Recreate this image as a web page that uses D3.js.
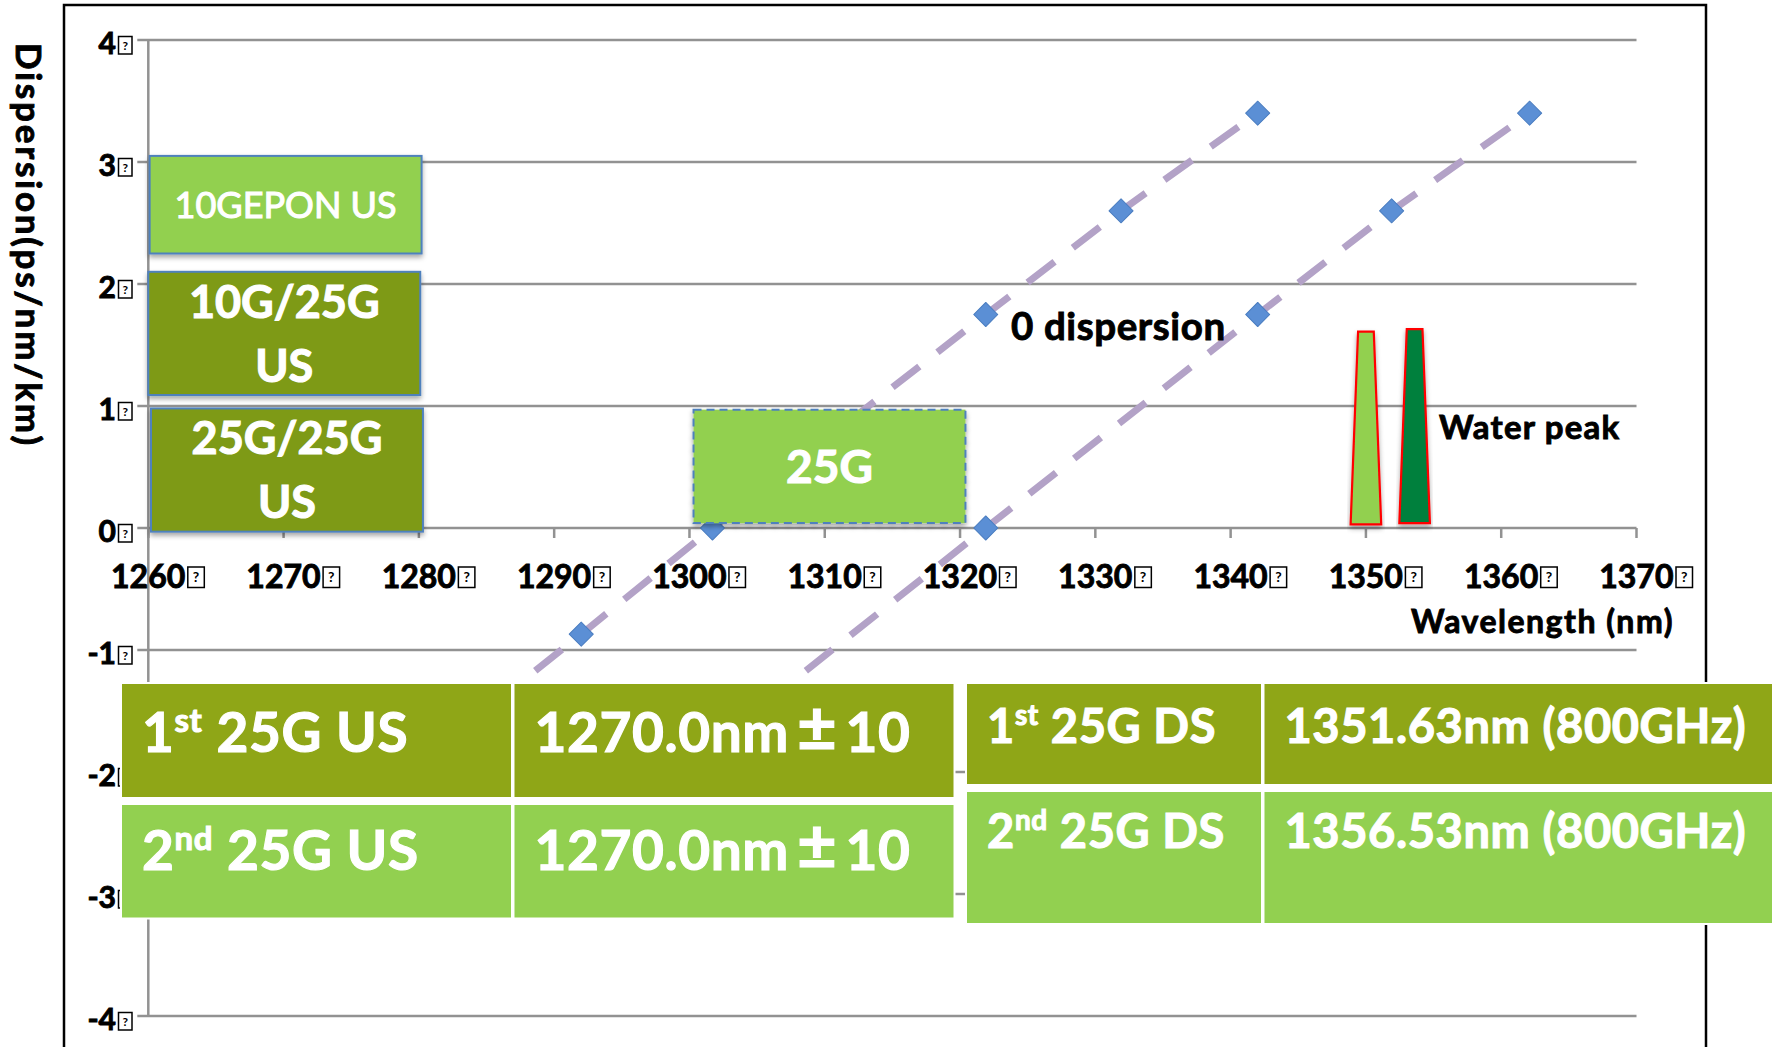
<!DOCTYPE html>
<html>
<head>
<meta charset="utf-8">
<script src="https://cdn.jsdelivr.net/npm/d3@7"></script>
<style>
  html, body { margin: 0; padding: 0; background: #fff; }
  svg { display: block; }
  text { font-family: Lato, "Open Sans", "DejaVu Sans", sans-serif; }
  .heavy-k { stroke: #000; stroke-width: 0.9px; }
  .heavy-w { stroke: #fff; stroke-width: 1.1px; }
</style>
</head>
<body>
<svg id="chart" width="1775" height="1047"></svg>
<script>
// ---- axis ticks ----
const xTicks = [1260, 1270, 1280, 1290, 1300, 1310, 1320, 1330, 1340, 1350, 1360, 1370];
const yTicks = [-4, -3, -2, -1, 0, 1, 2, 3, 4];

// ---- chromatic dispersion of two fibres (ps/nm/km vs nm) ----
const fibreAWavelength = [1282, 1292, 1301.7, 1321.9, 1331.9, 1342];
const fibreADispersion = [-1.75, -0.87, 0, 1.75, 2.6, 3.4];
const fibreBWavelength = [1302, 1321.9, 1342, 1351.9, 1362.1];
const fibreBDispersion = [-1.75, 0, 1.75, 2.6, 3.4];

// ---- wavelength bands (nm) and the dispersion range they span ----
const bandNames  = [["10GEPON US"], ["10G/25G", "US"], ["25G/25G", "US"], ["25G"]];
const bandStart  = [1260.1, 1260.0, 1260.2, 1300.3];
const bandEnd    = [1280.2, 1280.1, 1280.3, 1320.4];
const bandTop    = [3.05, 2.10, 0.98, 0.97];
const bandBottom = [2.25, 1.09, -0.03, 0.04];

// ---- water-peak markers ----
const peakWavelength = [1350.0, 1353.6];
const peakHeight     = [1.61, 1.63];
const peakBase       = [0.03, 0.04];

// ---- channel plan tables ----
const usOrdinal = ["1", "2"];
const usSuffix  = ["st", "nd"];
const usName    = ["25G US", "25G US"];
const usWave    = [["1270.0nm", "\u00B1", "10"], ["1270.0nm", "\u00B1", "10"]];
const dsOrdinal = ["1", "2"];
const dsSuffix  = ["st", "nd"];
const dsName    = ["25G DS", "25G DS"];
const dsWave    = [["1351.63nm (800GHz)"], ["1356.53nm (800GHz)"]];

const LIGHT = "#92D050", OLIVE = "#7E9A17", ROW_OLIVE = "#8FA617", BLUE = "#4F81BD";
const GRID = "#929292";

const svg = d3.select("#chart");
const x = d3.scaleLinear().domain([1260, 1370]).range([148.3, 1636.5]);
const y = d3.scaleLinear().domain([-4, 4]).range([1016, 40]);

const defs = svg.append("defs");
const sh = defs.append("filter").attr("id", "shadow")
  .attr("x", "-10%").attr("y", "-10%").attr("width", "120%").attr("height", "130%");
sh.append("feDropShadow").attr("dx", 0).attr("dy", 3).attr("stdDeviation", 2.5)
  .attr("flood-color", "#000").attr("flood-opacity", 0.35);

svg.append("rect").attr("width", 1775).attr("height", 1047).attr("fill", "#fff");

// chart frame
svg.append("rect").attr("x", 64).attr("y", 5).attr("width", 1642).attr("height", 1100)
  .attr("fill", "none").attr("stroke", "#000").attr("stroke-width", 2.5);

// horizontal gridlines (extend left as tick stubs)
svg.append("g").selectAll("line").data(yTicks).join("line")
  .attr("x1", x(1260) - 11).attr("x2", x(1370))
  .attr("y1", d => y(d)).attr("y2", d => y(d))
  .attr("stroke", GRID).attr("stroke-width", 2.5);

// vertical axis
svg.append("line").attr("x1", x(1260)).attr("x2", x(1260))
  .attr("y1", y(4)).attr("y2", y(-4)).attr("stroke", GRID).attr("stroke-width", 2.5);

// x ticks hanging below the zero line
svg.append("g").selectAll("line").data(xTicks).join("line")
  .attr("x1", d => x(d)).attr("x2", d => x(d))
  .attr("y1", y(0)).attr("y2", y(0) + 10)
  .attr("stroke", GRID).attr("stroke-width", 2.5);

// tick labels, each followed by a boxed "?" glyph
function glyphBox(g, bx, baseline, w, h, fs) {
  g.append("rect").attr("x", bx).attr("y", baseline - h).attr("width", w).attr("height", h)
    .attr("fill", "#fff").attr("stroke", "#000").attr("stroke-width", 1.5);
  g.append("text").attr("x", bx + w / 2).attr("y", baseline - h / 2 + fs * 0.36)
    .attr("text-anchor", "middle").attr("font-size", fs).attr("font-weight", 700)
    .attr("fill", "#000").text("?");
}

const xl = svg.append("g");
xTicks.forEach(t => {
  const g = xl.append("g");
  g.append("text").attr("class", "heavy-k").attr("x", x(t) + 37).attr("y", 588)
    .attr("text-anchor", "end").attr("font-size", 32).attr("font-weight", 700)
    .attr("fill", "#000").text(t);
  glyphBox(g, x(t) + 39.5, 587.5, 16.5, 20.5, 14);
});

const yl = svg.append("g");
yTicks.forEach(t => {
  const g = yl.append("g");
  g.append("text").attr("class", "heavy-k").attr("x", 116).attr("y", y(t) + 14)
    .attr("text-anchor", "end").attr("font-size", 30).attr("font-weight", 700)
    .attr("fill", "#000").text(t);
  glyphBox(g, 118.5, y(t) + 14, 13.5, 17.5, 12);
});

// axis titles
svg.append("text").attr("class", "heavy-k").attr("transform", "translate(16,43) rotate(90)")
  .attr("font-size", 35).attr("font-weight", 700).attr("fill", "#000")
  .attr("textLength", 402).attr("lengthAdjust", "spacing")
  .text("Dispersion(ps/nm/km)");
svg.append("text").attr("class", "heavy-k").attr("x", 1411).attr("y", 633)
  .attr("font-size", 32).attr("font-weight", 700).attr("letter-spacing", 1.5).attr("fill", "#000")
  .text("Wavelength (nm)");

// dispersion curves
const line = d3.line().x(d => x(d[0])).y(d => y(d[1]));
const fibres = [
  d3.zip(fibreAWavelength, fibreADispersion),
  d3.zip(fibreBWavelength, fibreBDispersion)
];
svg.append("g").selectAll("path").data(fibres).join("path")
  .attr("d", line).attr("fill", "none").attr("stroke", "#B3A2C7")
  .attr("stroke-width", 7).attr("stroke-dasharray", "34,23");

const diamond = d3.symbol().type(d3.symbolSquare).size(290);
svg.append("g").selectAll("path").data(fibres.flat()).join("path")
  .attr("d", diamond)
  .attr("transform", d => `translate(${x(d[0])},${y(d[1])}) rotate(45)`)
  .attr("fill", "#5B8FD5").attr("stroke", "#4A7DC0").attr("stroke-width", 1)
  .attr("stroke-linejoin", "round");

// wavelength bands
const bands = bandNames.map((n, i) => ({
  lines: n, x0: bandStart[i], x1: bandEnd[i], top: bandTop[i], bottom: bandBottom[i], i
}));
const bandFill = [LIGHT, OLIVE, OLIVE, LIGHT];
const bg = svg.append("g").selectAll("g").data(bands).join("g");
bg.append("rect")
  .attr("x", d => x(d.x0)).attr("y", d => y(d.top))
  .attr("width", d => x(d.x1) - x(d.x0)).attr("height", d => y(d.bottom) - y(d.top))
  .attr("fill", d => bandFill[d.i]).attr("stroke", BLUE).attr("stroke-width", 2)
  .attr("stroke-dasharray", d => d.i === 3 ? "8,5" : null)
  .attr("filter", "url(#shadow)");
bg.each(function(d) {
  const g = d3.select(this);
  const cx = (x(d.x0) + x(d.x1)) / 2;
  const cy = (y(d.top) + y(d.bottom)) / 2;
  const fs = d.i === 0 ? 36 : (d.i === 3 ? 46 : 45);
  const cap = fs * 0.72;
  const gap = 64;
  const first = cy + cap / 2 - (d.lines.length - 1) * gap / 2;
  d.lines.forEach((t, k) => {
    g.append("text").attr("class", "heavy-w").attr("x", cx).attr("y", first + k * gap)
      .attr("text-anchor", "middle").attr("font-size", fs)
      .attr("font-weight", d.i === 0 ? 400 : 700).attr("fill", "#fff").text(t);
  });
});

// water peak markers
const peaks = peakWavelength.map((w, i) => ({ w, h: peakHeight[i], b: peakBase[i], i }));
const peakFill = [LIGHT, "#00803C"];
svg.append("g").selectAll("path").data(peaks).join("path")
  .attr("d", d => {
    const pts = [
      [x(d.w - 1.13), y(d.b)], [x(d.w - 0.58), y(d.h)],
      [x(d.w + 0.58), y(d.h)], [x(d.w + 1.13), y(d.b)]
    ];
    return "M" + pts.map(p => p.join(",")).join("L") + "Z";
  })
  .attr("fill", d => peakFill[d.i]).attr("stroke", "#FF0000").attr("stroke-width", 2.2)
  .attr("filter", "url(#shadow)");

// annotations
svg.append("text").attr("class", "heavy-k").attr("x", 1011).attr("y", 340)
  .attr("font-size", 38.5).attr("font-weight", 700).attr("letter-spacing", 0.6)
  .attr("fill", "#000").text("0 dispersion");
svg.append("text").attr("class", "heavy-k").attr("x", 1439).attr("y", 439)
  .attr("font-size", 33).attr("font-weight", 700).attr("letter-spacing", 1.2)
  .attr("fill", "#000").text("Water peak");

// channel tables
function table(spec) {
  const g = svg.append("g");
  g.append("rect").attr("x", spec.cols[0][0] - 2).attr("y", spec.rows[0][0] - 2)
    .attr("width", spec.cols[1][1] - spec.cols[0][0] + 4)
    .attr("height", spec.rows[1][1] - spec.rows[0][0] + 4).attr("fill", "#fff");
  spec.rows.forEach((r, ri) => {
    spec.cols.forEach((c, ci) => {
      g.append("rect").attr("x", c[0]).attr("y", r[0])
        .attr("width", c[1] - c[0]).attr("height", r[1] - r[0])
        .attr("fill", ri === 0 ? ROW_OLIVE : LIGHT);
    });
    const base = spec.baselines[ri];
    const t1 = g.append("text").attr("class", "heavy-w")
      .attr("x", spec.cols[0][0] + spec.pad).attr("y", base)
      .attr("font-size", spec.fs).attr("font-weight", 700).attr("fill", "#fff")
      .attr("letter-spacing", spec.ls);
    t1.append("tspan").text(spec.ordinal[ri]);
    t1.append("tspan").attr("font-size", spec.sup).attr("dy", -spec.raise).text(spec.suffix[ri]);
    t1.append("tspan").attr("dy", spec.raise).text(" " + spec.name[ri]);
    const t2 = g.append("text").attr("class", "heavy-w")
      .attr("x", spec.cols[1][0] + spec.pad).attr("y", base)
      .attr("font-size", spec.fs).attr("font-weight", 700).attr("fill", "#fff")
      .attr("letter-spacing", spec.ls);
    spec.wave[ri].forEach((part, pi) => {
      const ts = t2.append("tspan").text(part);
      if (part === "\u00B1") ts.attr("dx", 8).attr("font-size", spec.fs * 1.25);
      else if (pi > 0) ts.attr("dx", 8);
    });
  });
}
table({
  cols: [[122, 511], [514.5, 953.5]], rows: [[684, 797], [805, 917.5]],
  baselines: [752, 870], pad: 20, fs: 55, sup: 33, raise: 20, ls: 0.6,
  ordinal: usOrdinal, suffix: usSuffix, name: usName, wave: usWave
});
table({
  cols: [[967, 1261], [1264.5, 1772]], rows: [[684, 784], [792, 923]],
  baselines: [742.5, 847.7], pad: 20, fs: 47, sup: 28, raise: 17.5, ls: 0.6,
  ordinal: dsOrdinal, suffix: dsSuffix, name: dsName, wave: dsWave
});
</script>
</body>
</html>
